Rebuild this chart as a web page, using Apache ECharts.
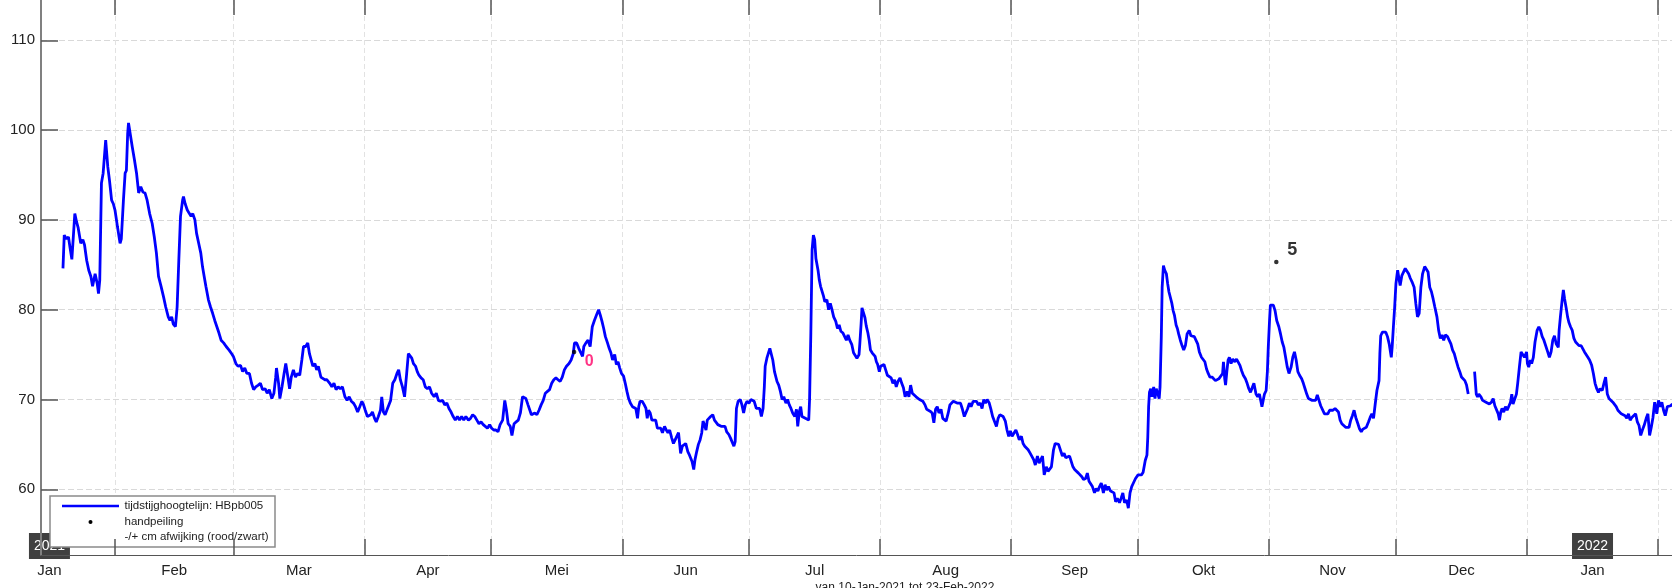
<!DOCTYPE html>
<html>
<head>
<meta charset="utf-8">
<script src="https://cdn.jsdelivr.net/npm/echarts@6/dist/echarts.min.js"></script>
<style>html,body{margin:0;padding:0;background:#fff;overflow:hidden}#c{width:1672px;height:588px}</style>
</head>
<body>
<div id="c"></div>
<script>
// x values are days counted from 1 Jan 2021 (= day 0)
const monthStarts = [31,59,90,120,151,181,212,243,273,304,334,365,396];
const monthLabelDays = [15.5,45,74.5,105,135.5,166,196.5,227.5,258,288.5,319,349.5,380.5];
const monthLabels = ['Jan','Feb','Mar','Apr','Mei','Jun','Jul','Aug','Sep','Okt','Nov','Dec','Jan'];
const yTicks = [60,70,80,90,100,110];
const yearLabels = ['2021','2022'];
const yearLabelDays = [15.5, 380.5];
const seriesName = 'tijdstijghoogtelijn: HBpb005';
const handName = 'handpeiling';
const devName = '-/+ cm afwijking (rood/zwart)';
const periodText = 'van 10-Jan-2021 tot 23-Feb-2022';

// hand measurements
const handDays = [139.6, 305.7];
const handValues = [75.3, 85.3];
const handDeviation = [0, 5];

// [day, level]
const levelPoints = [
[18.7,84.6],[19.0,88.3],[19.5,87.9],[20.0,88.1],[20.4,86.8],[20.8,85.6],[21.5,90.7],[21.9,89.8],[22.3,89.1],[22.9,87.4],
[23.4,87.8],[23.8,87.2],[24.3,85.5],[24.8,84.4],[25.3,83.7],[25.7,82.6],[26.3,84.0],[26.8,82.9],[27.1,81.8],[27.4,83.3],
[27.8,94.1],[28.2,95.2],[28.8,98.9],[29.3,95.9],[29.7,94.4],[30.2,92.2],[30.6,91.8],[31.0,91.1],[31.6,89.2],[32.2,87.4],
[32.5,87.9],[33.0,92.2],[33.4,95.2],[33.7,95.5],[34.0,99.6],[34.2,100.8],[34.6,99.6],[35.1,98.1],[35.6,96.7],[36.1,95.2],
[36.6,93.0],[37.1,93.7],[37.6,93.1],[38.1,93.0],[38.6,92.2],[39.2,90.7],[39.8,89.6],[40.3,88.1],[40.8,86.3],[41.3,83.7],
[41.9,82.6],[42.5,81.4],[43.0,80.3],[43.6,79.2],[44.0,78.8],[44.4,79.2],[44.8,78.4],[45.3,78.1],[45.7,80.3],[46.1,85.5],
[46.5,90.4],[47.0,92.2],[47.2,92.6],[47.6,91.8],[48.1,91.1],[48.6,90.7],[49.0,90.4],[49.4,90.7],[49.9,90.0],[50.3,88.5],
[50.8,87.4],[51.3,86.3],[51.7,84.8],[52.1,83.7],[52.5,82.6],[53.1,81.1],[53.6,80.3],[54.1,79.6],[54.6,78.8],[55.1,78.1],
[55.6,77.4],[56.1,76.6],[56.7,76.3],[57.3,75.9],[58.0,75.5],[58.6,75.1],[59.0,74.8],[59.6,74.0],[60.1,73.7],[60.7,73.8],
[61.2,73.1],[61.7,73.5],[62.2,72.9],[62.8,72.9],[63.3,71.8],[63.8,71.1],[64.3,71.4],[64.9,71.6],[65.4,71.8],[65.9,71.1],
[66.5,71.2],[67.0,70.7],[67.5,71.1],[68.1,70.1],[68.6,70.7],[69.0,72.4],[69.2,73.5],[69.7,71.8],[70.0,70.1],[70.5,71.4],
[71.0,72.9],[71.4,74.0],[71.9,72.5],[72.3,71.2],[72.7,72.5],[73.2,73.3],[73.7,72.5],[74.2,72.9],[74.7,72.7],[75.2,74.4],
[75.6,75.9],[76.1,75.9],[76.6,76.3],[77.0,75.1],[77.4,74.4],[77.8,73.7],[78.3,74.0],[78.7,73.3],[79.1,73.7],[79.7,72.5],
[80.1,72.5],[80.6,72.2],[81.1,72.2],[81.8,71.8],[82.3,71.4],[82.8,71.8],[83.3,71.1],[83.8,71.4],[84.3,71.2],[84.8,71.4],
[85.4,70.3],[85.9,69.9],[86.4,70.3],[86.9,69.8],[87.4,69.6],[87.9,69.2],[88.4,68.6],[88.9,69.2],[89.4,69.8],[89.8,69.4],
[90.2,68.8],[90.7,68.1],[91.1,67.9],[91.5,68.3],[91.9,68.6],[92.4,67.9],[92.8,67.5],[93.3,68.1],[93.8,68.8],[94.1,70.3],
[94.5,68.6],[94.9,68.3],[95.3,68.8],[95.7,68.6],[96.2,69.9],[96.7,71.8],[97.2,72.2],[97.7,72.9],[98.1,73.3],[98.5,72.2],
[99.0,71.4],[99.5,70.3],[100.0,72.9],[100.4,75.1],[100.8,75.3],[101.2,74.6],[101.6,74.0],[102.1,73.7],[102.5,73.1],[102.9,72.7],
[103.4,72.4],[103.9,72.2],[104.4,71.4],[104.9,71.2],[105.4,71.4],[105.9,70.7],[106.5,70.3],[107.0,70.7],[107.5,69.9],[108.0,69.8],
[108.5,69.9],[109.0,69.4],[109.5,69.6],[110.0,69.0],[110.5,68.6],[111.0,68.1],[111.5,67.7],[112.0,68.1],[112.5,67.7],[113.0,68.1],
[113.5,67.7],[114.0,68.1],[114.6,67.7],[115.1,67.9],[115.6,68.3],[116.1,68.1],[116.6,67.7],[117.1,67.3],[117.6,67.5],[118.1,67.2],
[118.6,67.0],[119.1,66.8],[119.6,67.2],[120.1,66.8],[120.6,66.6],[121.1,66.6],[121.6,66.4],[122.1,67.2],[122.7,67.7],[123.2,69.9],
[123.6,68.8],[124.0,67.3],[124.5,67.0],[124.9,66.0],[125.4,67.3],[125.9,67.5],[126.4,67.7],[126.9,68.5],[127.4,70.3],[127.8,70.5],
[128.2,70.1],[128.7,69.4],[129.1,69.2],[129.5,68.3],[129.9,68.1],[130.3,68.5],[130.8,68.3],[131.3,68.8],[131.8,69.4],[132.3,69.9],
[132.8,70.7],[133.3,70.9],[133.8,71.1],[134.3,71.8],[134.8,72.2],[135.3,72.4],[135.8,72.2],[136.3,72.0],[136.8,72.5],[137.3,73.3],
[137.8,73.7],[138.4,74.0],[138.9,74.4],[139.4,75.1],[139.7,76.3],[140.2,76.3],[140.7,75.7],[141.1,75.9],[141.6,74.8],[141.9,75.9],
[142.4,76.3],[142.9,76.6],[143.4,75.9],[143.9,78.1],[144.4,78.8],[144.9,79.4],[145.4,80.0],
[145.8,79.4],[146.2,78.7],[146.6,77.9],[147.0,77.0],[147.5,76.3],[147.9,75.7],[148.3,75.2],[148.7,74.4],[149.2,75.0],[149.6,73.9],
[150.0,74.2],[150.4,73.5],[150.8,72.9],[151.3,72.6],[151.7,71.8],[152.1,70.9],[152.5,70.1],[152.9,69.6],[153.4,69.2],[153.8,69.4],
[154.2,69.0],[154.6,67.9],[154.9,69.2],[155.2,69.8],[155.7,69.8],[156.2,69.4],[156.6,69.0],[156.9,67.9],[157.2,68.8],[157.6,68.5],
[158.0,67.7],[158.4,67.6],[158.9,67.7],[159.3,66.8],[159.7,67.0],[160.1,66.8],[160.5,66.3],[161.0,67.0],[161.4,66.6],[161.8,66.3],
[162.2,66.6],[162.7,65.7],[163.1,65.1],[163.5,65.5],[163.9,65.3],[164.3,66.3],[164.8,64.0],[165.2,64.8],[165.6,64.6],[166.0,65.1],
[166.5,64.2],[166.9,63.8],[167.3,64.0],[167.5,63.1],[167.9,62.2],[168.2,63.3],[168.6,64.2],[169.0,65.0],[169.4,65.5],[169.8,66.3],
[170.1,67.6],[170.4,67.2],[170.8,66.6],[171.1,67.7],[171.5,67.7],[171.9,68.1],[172.4,68.3],[172.8,67.7],[173.2,67.6],[173.6,67.2],
[174.0,67.0],[174.5,67.0],[174.9,66.8],[175.3,67.0],[175.7,66.4],[176.2,66.1],[176.6,65.7],[177.0,65.5],[177.4,64.8],[177.7,65.3],
[178.0,69.0],[178.4,69.8],[178.9,70.0],[179.3,69.4],[179.7,68.5],[180.1,69.4],[180.5,69.8],[181.0,69.6],[181.4,70.0],[181.8,70.1],
[182.2,69.8],[182.7,69.0],[183.1,68.9],[183.5,69.0],[183.9,68.1],[184.3,69.0],[184.6,71.4],[184.8,73.7],[185.2,74.6],[185.6,74.8],
[185.9,75.7],[186.3,75.7],[186.6,74.4],[187.0,73.1],[187.3,73.3],[187.6,72.0],[188.0,71.6],[188.4,70.9],[188.8,70.0],[189.2,70.3],
[189.7,69.6],[190.1,70.0],[190.5,69.4],[190.9,69.0],[191.3,68.5],[191.8,68.1],[192.2,68.9],[192.5,67.0],[192.9,68.7],[193.2,69.2],
[193.5,68.1],[193.9,68.3],[194.3,67.9],[194.7,68.1],[195.1,67.7],[195.3,70.0],[195.6,77.4],[195.9,86.7],[196.2,88.3],[196.5,87.8],
[196.8,85.7],[197.3,84.4],[197.6,83.3],[197.9,82.6],[198.3,82.8],[198.6,81.5],[198.9,80.9],[199.4,81.1],[199.8,80.0],[200.2,80.7],
[200.6,80.0],[201.0,79.2],[201.5,78.7],[201.9,77.9],[202.3,78.3],[202.7,77.6],[203.2,77.4],[203.6,77.0],[204.0,76.6],[204.4,77.2],
[204.8,76.6],[205.3,76.1],[205.7,75.2],[206.1,75.3],[206.5,74.6],[207.0,75.0],[207.2,76.3],[207.5,78.5],[207.7,80.2],[208.1,80.0],
[208.4,79.1],[208.7,78.2],[209.1,77.4],[209.4,76.6],[209.7,75.5],[210.1,75.2],[210.4,75.0],[210.8,74.8],[211.1,74.2],[211.4,73.9],
[211.8,73.1],[212.1,73.7],[212.4,73.5],[212.9,73.9],[213.3,73.3],[213.7,72.7],[214.1,72.6],[214.6,72.4],[215.0,71.8],[215.4,72.2],
[215.8,71.4],[216.2,72.0],[216.7,72.4],[217.1,71.8],[217.5,71.3],[217.9,70.3],[218.4,70.9],[218.8,70.3],[219.2,71.6],[219.6,70.7],
[220.0,70.5],[220.5,70.3],[220.9,70.1],[221.3,70.0],[221.7,70.0],[222.1,69.8],[222.6,69.4],[223.0,68.9],[223.4,69.0],[223.8,68.7],
[224.3,68.5],[224.7,67.4],[225.1,68.9],[225.5,69.2],[225.9,68.5],[226.4,68.9],[226.8,67.9],[227.2,68.1],[227.6,67.6],[228.1,68.5],
[228.5,69.4],[228.9,69.6],[229.3,69.8],[229.7,69.6],[230.2,69.6],[230.6,69.8],[231.0,69.6],[231.4,69.0],[231.9,68.1],[232.3,68.3],
[232.7,69.0],[233.1,69.6],[233.5,69.2],[234.0,69.8],[234.4,69.6],[234.8,69.8],[235.2,69.4],[235.7,69.6],[236.1,69.0],[236.5,70.0],
[236.9,69.6],[237.3,70.0],[237.8,69.6],[238.2,68.9],[238.6,68.1],[239.0,67.9],[239.5,67.0],[239.9,67.9],[240.3,68.3],[240.7,68.5],
[241.1,68.1],[241.6,67.6],[242.0,66.6],[242.4,65.9],[242.8,66.5],[243.2,65.9],[243.7,66.3],[244.1,66.6],[244.5,66.1],[244.9,65.5],
[245.4,65.9],[245.8,65.1],[246.2,64.8],[246.6,65.0],[247.0,64.4],[247.5,64.0],[247.9,63.8],[248.3,63.3],[248.7,62.7],[249.2,63.7],
[249.6,62.9],[250.0,63.3],[250.4,63.7],[250.8,61.6],[251.3,62.5],[251.7,62.0],[252.1,62.2],[252.5,62.5],[253.0,64.4],[253.4,65.1],
[253.8,65.1],[254.2,65.0],[254.6,64.8],[255.1,63.7],[255.5,64.0],[255.9,63.5],[256.3,63.7],[256.8,63.7],[257.2,63.5],[257.6,62.5],
[258.0,62.2],[258.4,62.4],[258.9,61.8],[259.3,62.0],[259.7,61.4],[260.1,61.1],[260.6,61.2],[261.0,61.8],[261.4,60.9],[261.8,60.7],
[262.2,60.3],[262.7,59.6],[263.1,60.1],[263.5,59.8],[263.9,60.3],[264.3,60.7],[264.8,59.6],[265.2,60.5],[265.6,59.9],[266.0,60.3],
[266.5,59.8],[266.9,59.6],[267.3,59.6],[267.7,58.6],[268.1,59.0],[268.6,58.5],[269.0,59.0],[269.4,59.6],[269.8,58.5],[270.3,58.8],
[270.7,57.9],[271.1,59.6],[271.5,60.3],[271.9,60.7],[272.4,61.2],[272.8,61.0],
[273.0,61.6],[273.8,61.6],[274.2,61.9],[274.7,63.2],[275.1,63.8],[275.3,65.8],[275.5,69.2],[275.7,70.8],[276.0,71.2],[276.3,70.3],
[276.7,71.4],[277.0,70.1],[277.3,71.2],[277.7,70.6],[278.0,70.1],[278.2,71.4],[278.5,77.0],[278.7,82.5],[279.0,84.9],[279.3,84.4],
[279.7,84.0],[280.0,82.9],[280.3,82.0],[280.6,81.8],[281.0,80.7],[281.3,79.9],[281.6,79.4],[282.0,78.3],[282.3,77.9],[282.6,77.3],
[283.0,76.6],[283.4,76.0],[283.8,75.5],[284.2,76.0],[284.6,77.3],[285.1,77.7],[285.5,77.1],[285.9,77.3],[286.3,77.0],[286.7,77.0],
[287.1,76.2],[287.5,75.3],[288.0,74.7],[288.4,74.7],[288.8,74.2],[289.2,73.4],[289.6,72.9],[290.0,72.5],[290.5,72.5],[290.9,72.7],
[291.3,72.1],[291.7,72.1],[292.1,72.3],[292.5,72.5],[293.0,72.9],[293.2,74.2],[293.5,72.3],[293.7,71.6],[294.0,73.1],[294.3,74.4],
[294.6,74.7],[295.0,74.0],[295.4,74.5],[295.9,74.2],[296.3,74.5],[296.7,74.5],[297.1,73.8],[297.5,73.2],[297.9,72.7],[298.4,72.3],
[298.8,71.8],[299.2,71.2],[299.6,70.8],[300.0,71.0],[300.4,71.8],[300.9,70.6],[301.3,70.3],[301.7,70.6],[302.1,69.7],[302.3,69.2],
[302.6,69.9],[302.9,70.6],[303.3,71.0],[303.6,73.2],[303.8,75.8],[304.1,78.8],[304.3,80.5],[304.7,80.3],[305.0,80.5],[305.4,79.9],
[305.8,78.8],[306.3,78.1],[306.7,77.3],[307.1,76.4],[307.5,75.8],[307.9,74.7],[308.3,73.6],[308.7,72.9],[309.2,73.6],[309.6,74.7],
[310.0,75.3],[310.4,74.4],[310.8,73.1],[311.2,72.7],[311.7,72.3],[312.1,71.8],[312.5,71.2],[312.9,70.6],[313.3,70.1],[313.7,70.3],
[314.2,69.9],[314.6,69.7],[315.0,69.9],[315.4,70.5],[315.8,69.9],[316.2,69.3],[316.6,69.2],[317.1,68.4],[317.5,68.6],[317.9,68.4],
[318.3,68.8],[318.7,68.6],[319.1,68.8],[319.6,69.0],[320.0,69.0],[320.4,68.6],[320.8,67.7],[321.2,67.3],[321.6,67.5],[322.1,66.9],
[322.5,66.7],[322.9,66.9],[323.3,67.7],[323.7,68.2],[324.1,68.8],[324.5,68.0],[325.0,67.3],[325.4,66.7],[325.8,66.4],[326.2,66.7],
[326.6,66.6],[327.0,66.9],[327.5,67.5],[327.9,68.0],[328.3,68.4],[328.7,67.9],[329.1,69.5],[329.5,71.0],[330.0,72.1],[330.2,75.1],
[330.4,77.1],[330.8,77.5],[331.2,77.3],[331.6,77.5],[332.0,77.0],[332.4,76.2],[332.9,74.7],[333.1,75.8],[333.4,78.1],[333.7,80.3],
[334.0,82.9],[334.4,84.4],[334.7,83.5],[335.0,82.7],[335.4,83.8],[335.8,84.0],[336.2,84.6],[336.6,84.8],[337.0,84.0],[337.4,83.5],
[337.8,83.1],[338.3,82.5],[338.7,80.7],[339.1,79.2],[339.5,79.6],[339.9,82.5],[340.3,84.0],[340.8,84.8],[341.2,84.9],[341.6,84.2],
[342.0,82.5],[342.4,82.0],[342.8,81.2],[343.2,80.3],[343.7,79.2],[344.1,77.7],[344.5,76.8],[344.9,77.2],[345.3,76.6],[345.7,77.2],
[346.2,77.0],[346.6,77.0],[347.0,76.2],[347.4,75.5],[347.8,75.1],[348.2,74.4],[348.7,73.6],[349.1,73.1],[349.5,72.5],[349.9,72.3],
[350.3,72.1],[350.7,71.6],[351.1,70.6],[351.9,null],
[352.6,73.1],[353.0,70.6],[353.3,70.3],[353.6,70.6],[354.1,70.3],[354.5,69.9],[354.9,70.1],[355.3,69.7],[355.7,69.9],[356.1,69.5],
[356.6,69.7],[357.0,70.1],[357.4,69.3],[357.8,69.5],[358.2,68.4],[358.5,67.7],[358.8,68.6],[359.1,69.0],[359.5,68.6],[359.9,69.2],
[360.3,68.8],[360.7,69.0],[361.1,69.7],[361.4,70.6],[361.7,69.5],[362.1,69.7],[362.5,70.6],[362.8,71.8],[363.2,73.6],[363.6,75.3],
[364.0,75.5],[364.4,74.7],[364.9,75.3],[365.1,74.0],[365.4,73.6],[365.8,74.4],[366.1,74.0],[366.5,74.7],[366.9,76.4],[367.4,77.7],
[367.8,78.1],[368.2,77.7],[368.6,77.0],[369.0,76.6],[369.4,76.8],[369.9,75.3],[370.3,74.7],[370.7,75.3],[371.1,76.6],[371.5,77.1],
[371.9,76.2],[372.4,75.8],[372.6,77.7],[372.9,79.2],[373.3,81.0],[373.6,82.2],[373.9,81.2],[374.3,80.1],[374.6,79.2],[374.9,78.6],
[375.3,78.1],[375.7,77.7],[376.1,76.8],[376.5,76.4],[376.9,76.2],[377.3,76.0],[377.8,76.0],[378.2,75.8],[378.6,75.3],[379.0,75.1],
[379.4,74.7],[379.8,74.4],[380.3,73.8],[380.7,72.9],[381.1,71.8],[381.5,71.2],[381.9,70.8],[382.3,71.2],[382.8,71.0],[383.2,71.8],
[383.6,72.5],[384.0,70.6],[384.4,70.1],[384.8,69.9],[385.3,69.7],[385.7,69.5],[386.1,69.2],[386.5,68.8],[386.9,68.6],[387.3,68.4],
[387.7,68.2],[388.2,68.2],[388.6,67.9],[389.0,68.4],[389.4,67.7],[389.8,68.0],[390.2,67.9],[390.7,68.4],[391.1,67.5],[391.5,67.1],
[391.9,66.0],[392.3,66.6],[392.7,67.1],[393.2,67.9],[393.6,68.4],[394.0,66.0],[394.4,66.9],[394.8,68.0],[395.2,69.7],[395.7,68.4],
[396.1,69.9],[396.5,69.2],[396.9,69.7],[397.3,68.8],[397.7,68.2],[398.2,69.2],[398.6,69.2],[399.0,69.3],[399.4,69.5]
];

const FONT = '"Liberation Sans", Arial, Helvetica, sans-serif';
const X_MIN = 13.5, X_MAX = 399.3;
const Y_MIN = 52.68, Y_MAX = 114.49;

const chart = echarts.init(document.getElementById('c'), null, {renderer: 'canvas'});

const handData = handDays.map((d, i) => {
  const below = i === 0;
  return {
    value: [d, handValues[i]],
    label: {
      color: below ? '#ff0066' : '#000000',
      fontSize: below ? 16 : 18,
      offset: below ? [15, 10] : [16, -12]
    }
  };
});

const option = {
  animation: false,
  backgroundColor: '#ffffff',
  grid: {left: 41, right: 0, top: 0, bottom: 33, containLabel: false, outerBoundsMode: 'none'},
  xAxis: [{
    type: 'value', min: X_MIN, max: X_MAX, position: 'bottom',
    axisLine: {show: true, onZero: false, lineStyle: {color: '#555555', width: 1}},
    axisTick: {show: true, inside: true, length: 16, customValues: monthStarts, lineStyle: {color: '#555555', width: 1.5}},
    axisLabel: {
      show: true, customValues: monthLabelDays, margin: 8, fontSize: 15, color: '#222222', fontFamily: FONT,
      formatter: v => { const i = monthLabelDays.indexOf(v); return i >= 0 ? monthLabels[i] : ''; }
    },
    splitLine: {show: true, lineStyle: {color: '#e2e2e2', width: 1, type: [5, 3]}}
  }, {
    type: 'value', min: X_MIN, max: X_MAX, position: 'top',
    axisLine: {show: false},
    axisTick: {show: true, inside: true, length: 15, customValues: monthStarts, lineStyle: {color: '#555555', width: 1.5}},
    axisLabel: {show: false},
    splitLine: {show: false}
  }],
  yAxis: {
    type: 'value', min: Y_MIN, max: Y_MAX, position: 'left',
    axisLine: {show: true, onZero: false, lineStyle: {color: '#808080', width: 2}},
    axisTick: {show: true, inside: true, length: 17, customValues: yTicks, lineStyle: {color: '#555555', width: 1.5}},
    axisLabel: {show: true, customValues: yTicks, margin: 6, fontSize: 15, color: '#222222', fontFamily: FONT},
    splitLine: {show: true, lineStyle: {color: '#d9d9d9', width: 1, type: [6, 3]}}
  },
  series: [{
    name: seriesName, type: 'line', xAxisIndex: 0, yAxisIndex: 0,
    data: levelPoints, showSymbol: false, symbol: 'none', connectNulls: false,
    lineStyle: {color: '#0000ff', width: 2.8}, z: 3, silent: true
  }, {
    name: handName, type: 'scatter', xAxisIndex: 0, yAxisIndex: 0,
    data: handData, symbol: 'circle', symbolSize: 4.5,
    itemStyle: {color: '#000000'}, z: 5, silent: true,
    label: {
      show: true, position: 'inside', fontWeight: 'bold', fontFamily: FONT,
      formatter: p => String(handDeviation[p.dataIndex])
    }
  }]
};
chart.setOption(option);

// Year tags and legend, placed from the axis scales
const yearGraphics = yearLabelDays.map((d, i) => {
  const cx = chart.convertToPixel({xAxisIndex: 0}, d);
  const axisY = chart.convertToPixel({yAxisIndex: 0}, Y_MIN);
  return {
    type: 'group', x: cx, y: axisY, z: 50,
    children: [
      {type: 'rect', shape: {x: -20.5, y: -22, width: 41, height: 26}, style: {fill: '#404040'}},
      {type: 'text', x: 0, y: -9, style: {text: yearLabels[i], fill: '#ffffff', fontSize: 14, fontFamily: FONT, align: 'center', verticalAlign: 'middle'}}
    ]
  };
});

const legendGraphic = {
  type: 'group', x: 50, y: 496, z: 100,
  children: [
    {type: 'rect', shape: {x: 0, y: 0, width: 225, height: 51}, style: {fill: '#ffffff', stroke: '#8a8a8a', lineWidth: 1.5}},
    {type: 'line', shape: {x1: 12, y1: 10, x2: 69, y2: 10}, style: {stroke: '#0000ff', lineWidth: 2.5}},
    {type: 'text', x: 74.5, y: 10, style: {text: seriesName, fill: '#222222', fontSize: 11.5, fontFamily: FONT, verticalAlign: 'middle'}},
    {type: 'circle', shape: {cx: 40.5, cy: 26, r: 2}, style: {fill: '#000000'}},
    {type: 'text', x: 74.5, y: 26, style: {text: handName, fill: '#222222', fontSize: 11.5, fontFamily: FONT, verticalAlign: 'middle'}},
    {type: 'text', x: 74.5, y: 41, style: {text: devName, fill: '#222222', fontSize: 11.5, fontFamily: FONT, verticalAlign: 'middle'}}
  ]
};

const captionGraphic = {
  type: 'text', x: 905, y: 582, z: 50,
  style: {text: periodText, fill: '#222222', fontSize: 12, fontFamily: FONT, align: 'center', verticalAlign: 'top'}
};

chart.setOption({graphic: yearGraphics.concat([legendGraphic, captionGraphic])});
</script>
</body>
</html>
